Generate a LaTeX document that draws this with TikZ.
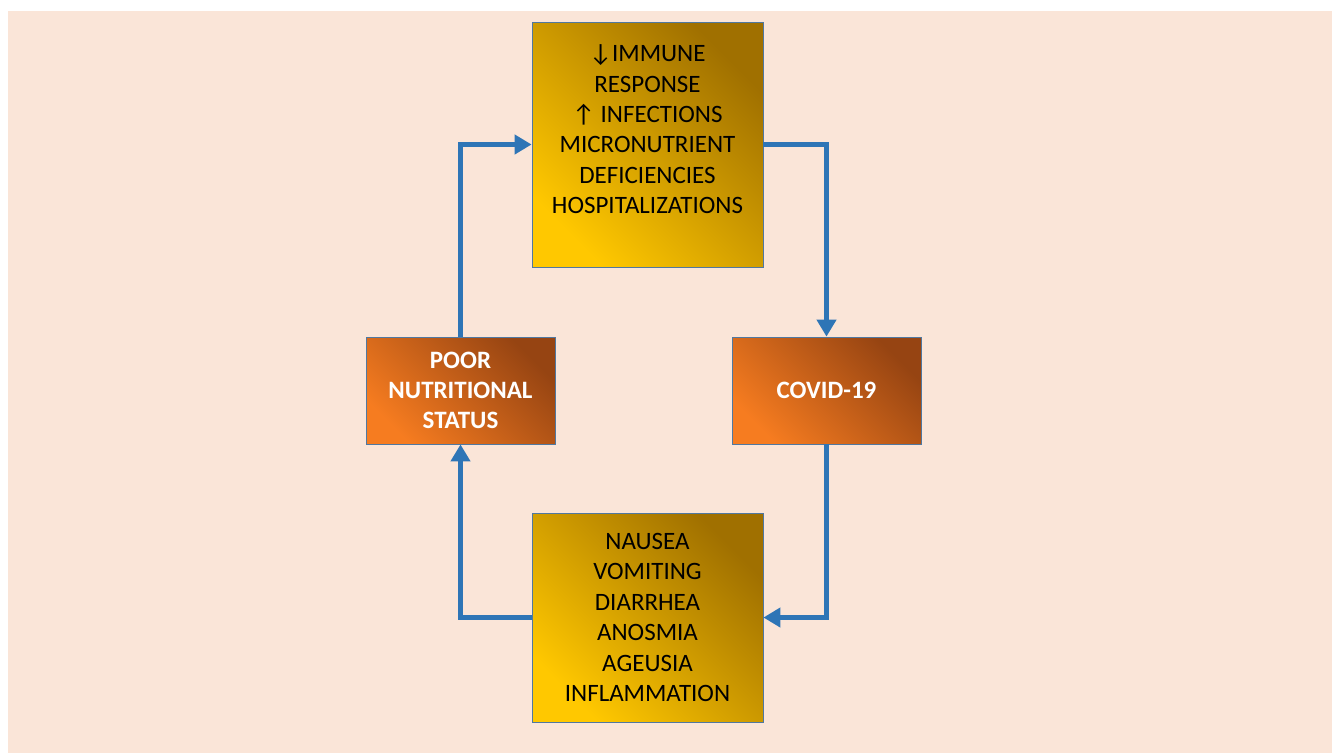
\documentclass[tikz,border=0pt]{standalone}
\usepackage{fontspec}
\setmainfont{Carlito}
\usetikzlibrary{arrows.meta}
\definecolor{peach}{RGB}{250,229,216}
\definecolor{flowblue}{RGB}{46,117,182}
\definecolor{boxedge}{RGB}{80,120,160}
\definecolor{goldlight}{RGB}{255,200,0}
\definecolor{golddark}{RGB}{160,112,0}
\definecolor{rustlight}{RGB}{246,124,32}
\definecolor{rustdark}{RGB}{150,68,18}
\begin{document}
\begin{tikzpicture}[x=1pt,y=-1pt,line join=miter,
  font=\fontsize{25}{30.4}\selectfont,
  goldbox/.style={draw=boxedge,line width=0.8pt,top color=golddark,bottom color=goldlight,
    shading angle=-45,align=center,inner sep=0pt,minimum width=231pt},
  rustbox/.style={draw=boxedge,line width=0.8pt,top color=rustdark,bottom color=rustlight,
    shading angle=-45,align=center,inner sep=0pt,minimum width=189pt,minimum height=107pt,
    text=white,font=\fontsize{25}{30}\selectfont\bfseries},
  flow/.style={draw=flowblue,line width=5pt,-{Triangle[length=17pt,width=19pt]}}]
\useasboundingbox (0,0) rectangle (1332,753);
\fill[peach] (8,11) rectangle (1332,753);
% boxes
\node[goldbox,minimum height=245pt] (immune) at (647.5,144.5)
  {↓IMMUNE\\RESPONSE\\↑ INFECTIONS\\MICRONUTRIENT\\DEFICIENCIES\\HOSPITALIZATIONS\\\mbox{}};
\node[rustbox] (covid) at (826.5,390.5) {COVID-19};
\node[goldbox,minimum height=209pt] (symptoms) at (647.5,617.5)
  {NAUSEA\\VOMITING\\DIARRHEA\\ANOSMIA\\AGEUSIA\\INFLAMMATION};
\node[rustbox] (poor) at (460.5,390.5) {POOR\\NUTRITIONAL\\STATUS};
% cycle
\draw[flow] (immune.east) -| (covid.north);
\draw[flow] (covid.south) |- (symptoms.east);
\draw[flow] (symptoms.west) -| (poor.south);
\draw[flow] (poor.north) |- (immune.west);
\end{tikzpicture}
\end{document}
